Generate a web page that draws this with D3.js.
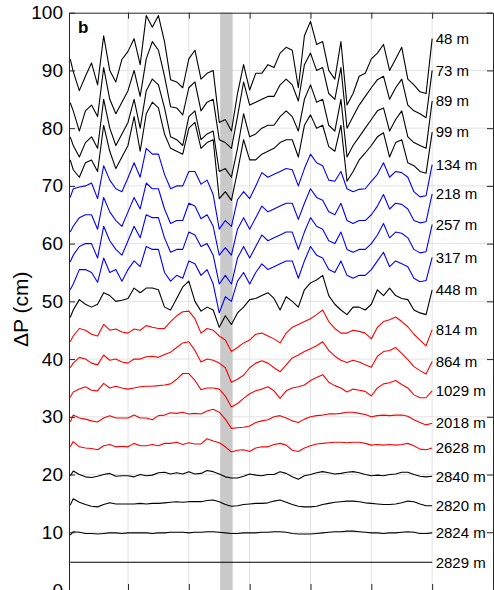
<!DOCTYPE html>
<html>
<head>
<meta charset="utf-8">
<title>Pressure change profiles</title>
<script src="https://cdn.jsdelivr.net/npm/d3@7"></script>
<style>
  body { margin: 0; background: #fff; }
  svg { display: block; font-family: "Liberation Sans", Arial, Helvetica, sans-serif; }
</style>
</head>
<body>
<div id="chart"></div>
<script>
// sample positions along the record (one grid step per unit)
var xs = d3.range(61).map(function(i) { return i / 10; });
xs[0] = 0.05;
var xFlat = [0.05, 6];

// shaded event window
var bandRange = [2.515, 2.72];

var yTicks = [0, 10, 20, 30, 40, 50, 60, 70, 80, 90, 100];
var xTicks = [1, 2, 3, 4, 5, 6];

// ΔP (cm) for each sensor depth
var p48 = [92, 89.8, 86.5, 89, 91.3, 87.5, 96, 90, 88, 91.9,
  93.3, 95.5, 91, 99.5, 97.5, 99.5, 95, 88.4, 88, 87,
  92, 93.5, 88.5, 89.5, 90, 81, 81.5, 79.5, 86, 91,
  86.6, 89.5, 89.5, 91, 90.5, 93, 94, 93.5, 87, 96,
  98.5, 94.5, 95, 90, 88.5, 95, 84, 86, 89, 89.5,
  92, 93, 94.5, 90, 92, 94, 88.5, 87.5, 86.3, 86,
  95.5];
var p73 = [84.4, 83, 79.5, 83, 84, 82, 90.5, 85, 82.5, 84.5,
  86.5, 90, 85.5, 92, 95, 93.5, 89, 83.7, 83.5, 82.3,
  87, 88, 83, 84.5, 85, 78, 77.5, 76.5, 82, 88,
  84, 84.5, 85, 85.5, 85.5, 87.5, 88.5, 87.5, 84.7, 91,
  93, 90, 90.5, 86, 85, 90.5, 80, 82, 84, 85.5,
  87, 88.4, 89, 85, 87, 88.5, 84, 83, 82.5, 81.8,
  90];
var p89 = [78.5, 77, 75, 77.5, 78.5, 76.5, 85, 80, 77, 79,
  81, 85, 80, 86.5, 88.5, 87.5, 83.5, 78.5, 78, 77,
  82, 83, 78, 79, 79.5, 72.5, 73, 71.5, 76.5, 82.5,
  78.5, 79, 80, 80.5, 80.5, 82, 83, 82, 79.5, 85,
  87.5, 84.5, 85, 80.5, 79.5, 85, 75, 77, 78.5, 80,
  81.5, 83, 83.5, 79.5, 81.5, 83, 78.5, 77.5, 77, 76.5,
  84.7];
var p99 = [74.5, 72.8, 71.5, 74, 74.5, 72.5, 80.5, 76, 73, 75,
  77, 82, 76, 82.5, 84.5, 83.5, 79, 76.5, 76, 75.5,
  80, 81, 76.5, 77.5, 78, 67.8, 69, 67.5, 72.5, 78,
  74.5, 74.5, 75.5, 76, 76.5, 77.5, 78, 78, 75, 80.5,
  82.3, 80, 80.5, 76.8, 76, 80.5, 70.8, 72.5, 74.5, 75.7,
  77, 78.5, 79.2, 75, 77.5, 78, 74, 73.5, 72.5, 72.2,
  79.3];
var p134 = [68, 69.5, 69.8, 70, 70.5, 67.8, 73.5, 71, 69.5, 69,
  71.4, 74, 71.5, 76.5, 75.5, 75.5, 72, 69.5, 70, 70,
  72.5, 72.5, 70.3, 71, 68.5, 62.5, 64, 63, 67.6, 69,
  67.8, 70, 72.3, 71.5, 72, 72.5, 73, 72.8, 70, 73,
  75.5, 74, 73.5, 71, 70.8, 72.5, 69.5, 69, 69.4, 69.5,
  70.8, 72, 74, 71.5, 72.5, 72.3, 71.5, 69, 68.1, 68.3,
  73.7];
var p218 = [62, 63, 64.5, 65, 65, 62.5, 68, 65.5, 64, 63,
  65.5, 68, 66, 70.5, 69.5, 69.5, 66, 63.5, 64, 64,
  67, 66.5, 64.3, 65, 63, 58, 59.3, 58, 62.5, 64.5,
  62.5, 64.5, 66.5, 65.5, 66, 66.5, 67, 67, 64.2, 67,
  69.5, 68, 67.5, 65.5, 65, 67, 64, 63.5, 64, 64,
  65, 66.5, 68.5, 66, 67, 66.8, 66, 64, 63.6, 63.8,
  68.6];
var p257 = [56.8, 58, 59.5, 60, 60, 57.5, 63, 60.5, 59, 58,
  60.5, 63, 61, 65, 64.5, 64.5, 61, 58.5, 59, 59,
  62, 61.5, 59.5, 60, 58, 53, 54.5, 53, 57.5, 59.5,
  57.5, 59.5, 61.5, 60.5, 61, 61.5, 62, 62, 59, 62,
  64.5, 63, 62.5, 60.5, 60, 62, 59, 58.5, 59, 59,
  60, 61.5, 63.5, 61, 62, 61.8, 61, 59, 58.4, 58.6,
  63.3];
var p317 = [52, 53, 55.5, 55.5, 55, 53.3, 57.5, 55, 55.5, 53.5,
  55.5, 57, 56, 59.5, 59, 59, 55, 53.5, 54.5, 54,
  57, 56.5, 54.5, 55.5, 53, 48, 50.8, 50, 53.5, 55,
  53, 55, 56.5, 55.5, 56, 56.5, 57, 57, 54, 57,
  59.5, 58, 57.5, 55.5, 55, 57, 54.5, 54, 54.5, 54.5,
  55.5, 57, 58.5, 56, 57, 56.5, 56, 54, 53.4, 53.6,
  57.6];
var p448 = [47.2, 48.5, 50.3, 49.5, 49, 49.5, 51.5, 51, 50, 50.2,
  50.5, 52.3, 51.5, 52.3, 52.3, 52, 49, 48.5, 50.5, 52.5,
  53.5, 50, 48.3, 49, 48.5, 45.5, 47.5, 46, 48, 49,
  50.3, 50.5, 51, 51.5, 50.5, 48.5, 50.8, 50, 49, 52,
  53.2, 53.7, 54.5, 51, 49.5, 48.5, 47.7, 49, 49, 48.5,
  49.5, 52, 51, 52.3, 51, 50.5, 50.3, 48.5, 48, 47.7,
  52];
var p814 = [43, 44, 45.3, 45, 44.3, 44, 46, 45, 45.2, 44.7,
  44.5, 45.2, 45, 45.8, 45.5, 45.3, 45.3, 46.5, 47.5, 48.2,
  48.3, 47, 44.5, 45.3, 45, 44, 43.3, 41.3, 42, 42.8,
  43.3, 44.3, 44.5, 44, 43.5, 42.8, 44.5, 45.5, 46, 46.5,
  47, 47.7, 48.5, 46.5, 45.3, 44.5, 44.5, 45, 44.8, 44.5,
  43.5, 45.5, 46.5, 46.8, 47.3, 46.5, 45.6, 44.3, 43.3, 42.3,
  45.1];
var p864 = [38.5, 39.3, 40.3, 40, 39.3, 39, 40.7, 39.8, 40, 39.5,
  39.3, 40, 40, 40.4, 40.5, 40.3, 40.8, 41.2, 42, 42.8,
  43, 41.5, 39.5, 40, 39.8, 39.3, 38.5, 36, 36.5, 37.2,
  38.5, 39.3, 39.7, 39.3, 38.5, 37.8, 39, 40.2, 40.7, 41.3,
  41.8, 42.3, 43, 41.5, 40.5, 39.8, 39.4, 39.8, 39.5, 39,
  38.6, 40.5, 41.3, 41.5, 42, 41, 39.9, 38.7, 38, 37.4,
  39.6];
var p1029 = [33.4, 34.3, 34.8, 35.2, 34.6, 34.5, 35.8, 35, 35.3, 35,
  34.8, 35, 35.2, 35.3, 35.3, 35.4, 35.5, 35.7, 36.5, 37.5,
  37.5, 36.3, 34.7, 35, 35, 34.8, 33.6, 31.7, 32.3, 33.2,
  34, 34.5, 34.8, 35.2, 34.5, 33.2, 34.5, 35, 35.2, 35.5,
  36.3, 36.8, 37.3, 36, 35.4, 35, 34.3, 34.8, 34.6, 34.4,
  33.6, 35, 35.7, 35.9, 36.3, 35.6, 35, 33.8, 33.3, 33.3,
  34.5];
var p2018 = [29.1, 30.3, 29.8, 29.6, 29.3, 29.1, 29.8, 30.2, 29.8, 29.8,
  29.8, 30.3, 29.8, 29.8, 29.5, 30.2, 30.3, 30.7, 30.6, 30.8,
  30.5, 30.6, 30.5, 31, 31.3, 30.8, 29.6, 28, 28.1, 28.2,
  28.4, 29, 29.3, 29.5, 30, 30.2, 29.8, 29.3, 29, 29.6,
  30, 30.2, 30.3, 30.5, 30.5, 30.6, 30.8, 30.8, 30.6, 30.4,
  30, 30.2, 30.3, 30.2, 30.3, 30.3, 30.1, 29.5, 29, 28.6,
  28.9];
var p2628 = [24.8, 25.7, 24.8, 24.6, 24.5, 24.3, 25, 25.2, 24.8, 24.9,
  24.8, 25.4, 25, 25, 25.2, 25, 25.4, 25.4, 25.6, 25.2,
  25.5, 25.3, 25.3, 26.2, 25.8, 25.5, 24.8, 23.9, 24.2, 24.3,
  24, 24.6, 24.8, 24.8, 25.2, 25.4, 25.1, 24.2, 24, 24.6,
  25, 25.3, 25.4, 25.5, 25.6, 25.6, 25.5, 25.6, 25.6, 25.4,
  25.1, 25.2, 25.1, 25.2, 25.1, 25.2, 25.4, 25, 24.4, 24.3,
  24.6];
var p2840 = [19.8, 20.6, 20, 19.6, 19.5, 19.7, 20, 20.2, 19.7, 19.8,
  19.8, 19.6, 20, 19.8, 19.9, 20.3, 20.4, 20.1, 20.3, 20.1,
  20.5, 20.1, 20.2, 20.7, 20.5, 20.1, 19.6, 19.4, 19.4, 19.7,
  20.1, 19.9, 19.8, 20, 20, 20.5, 20.2, 19.6, 19.2, 19.8,
  20, 20.3, 20.5, 20.3, 20.1, 20.2, 20.4, 20.5, 20.3, 20,
  19.8, 19.9, 19.8, 20, 20.1, 20.4, 20.4, 20, 19.7, 19.6,
  19.7];
var p2820 = [14.7, 15.8, 15.2, 14.8, 14.5, 14.4, 14.8, 15.1, 14.9, 14.9,
  14.9, 14.9, 15, 14.9, 15, 15, 15.1, 15.2, 15.3, 15.2,
  15.3, 15.3, 15.3, 15.5, 15.6, 15.3, 14.8, 14.5, 14.6, 14.8,
  14.9, 15, 15, 15.1, 15.4, 15.6, 15.2, 14.8, 14.5, 14.4,
  14.4, 14.5, 14.8, 15, 15.2, 15.3, 15.4, 15.4, 15.3, 15.1,
  15, 14.9, 14.8, 14.8, 14.9, 15.1, 15.4, 15.3, 14.9, 14.6,
  14.6];
var p2824 = [9.5, 10.1, 10, 9.8, 9.8, 9.7, 9.8, 9.9, 9.9, 9.8,
  9.9, 9.9, 9.9, 9.9, 9.8, 9.9, 9.9, 10, 10, 10,
  9.9, 10, 10, 10.1, 10.1, 10, 9.9, 9.8, 9.8, 9.9,
  9.9, 9.9, 10, 10, 10.1, 10.1, 10, 9.8, 9.7, 9.7,
  9.7, 9.8, 9.9, 10, 10.1, 10.1, 10.2, 10.2, 10.1, 10,
  9.9, 9.9, 9.8, 9.9, 9.9, 10, 10.1, 10, 9.8, 9.8,
  9.9];
var p2829 = [4.8, 4.8];

var black = "#000000", blue = "#0000ff", red = "#ff0000";

var series = [
  { name: "48 m", color: black, x: xs, y: p48 },
  { name: "73 m", color: black, x: xs, y: p73 },
  { name: "89 m", color: black, x: xs, y: p89 },
  { name: "99 m", color: black, x: xs, y: p99 },
  { name: "134 m", color: blue, x: xs, y: p134 },
  { name: "218 m", color: blue, x: xs, y: p218 },
  { name: "257 m", color: blue, x: xs, y: p257 },
  { name: "317 m", color: blue, x: xs, y: p317 },
  { name: "448 m", color: black, x: xs, y: p448 },
  { name: "814 m", color: red, x: xs, y: p814 },
  { name: "864 m", color: red, x: xs, y: p864 },
  { name: "1029 m", color: red, x: xs, y: p1029 },
  { name: "2018 m", color: red, x: xs, y: p2018 },
  { name: "2628 m", color: red, x: xs, y: p2628 },
  { name: "2840 m", color: black, x: xs, y: p2840 },
  { name: "2820 m", color: black, x: xs, y: p2820 },
  { name: "2824 m", color: black, x: xs, y: p2824 },
  { name: "2829 m", color: black, x: xFlat, y: p2829 }
];

var W = 494, H = 590;
var mLeft = 69, mRight = 493, mTop = 12.7, mBottom = 590;

var svg = d3.select("#chart").append("svg")
  .attr("width", W)
  .attr("height", H);

var x = d3.scaleLinear().domain([0.03, 7]).range([mLeft, mRight]);
var y = d3.scaleLinear().domain([0, 100]).range([mBottom, mTop]);

svg.append("clipPath").attr("id", "plotclip")
  .append("rect")
  .attr("x", mLeft).attr("y", mTop)
  .attr("width", mRight - mLeft).attr("height", mBottom - mTop);

// grid
var grid = svg.append("g").attr("stroke", "#e2e2e2").attr("stroke-width", 1);
grid.selectAll(".gx").data(xTicks).enter().append("line")
  .attr("x1", function(d) { return x(d); }).attr("x2", function(d) { return x(d); })
  .attr("y1", mTop).attr("y2", mBottom);
grid.selectAll(".gy").data(yTicks.slice(1, -1)).enter().append("line")
  .attr("x1", mLeft).attr("x2", mRight)
  .attr("y1", function(d) { return y(d); }).attr("y2", function(d) { return y(d); });

// event band
svg.append("rect")
  .attr("x", x(bandRange[0]))
  .attr("width", x(bandRange[1]) - x(bandRange[0]))
  .attr("y", mTop)
  .attr("height", mBottom - mTop)
  .attr("fill", "#c9c9c9");

// profiles
var line = d3.line()
  .x(function(d) { return x(d[0]); })
  .y(function(d) { return y(d[1]); });

svg.append("g").attr("clip-path", "url(#plotclip)")
  .selectAll("path").data(series).enter().append("path")
  .attr("fill", "none")
  .attr("stroke", function(d) { return d.color; })
  .attr("stroke-width", 1.1)
  .attr("stroke-linejoin", "round")
  .attr("d", function(d) { return line(d3.zip(d.x, d.y)); });

// axes
function styleAxis(g) {
  g.selectAll(".domain").attr("stroke", "#262626");
  g.selectAll(".tick line").attr("stroke", "#262626");
}

svg.append("g")
  .attr("transform", "translate(" + mLeft + ",0)")
  .call(d3.axisLeft(y).tickValues(yTicks).tickSize(-6).tickSizeOuter(0).tickPadding(6))
  .call(styleAxis)
  .call(function(g) {
    g.selectAll("text")
      .attr("fill", "#000")
      .style("font-size", "19px")
      .style("font-family", "'Liberation Sans', Arial, Helvetica, sans-serif");
  });

svg.append("g")
  .attr("transform", "translate(" + mRight + ",0)")
  .call(d3.axisRight(y).tickValues(yTicks).tickSize(-6).tickSizeOuter(0).tickFormat(""))
  .call(styleAxis);

svg.append("g")
  .attr("transform", "translate(0," + mTop + ")")
  .call(d3.axisTop(x).tickValues(xTicks).tickSize(-6).tickSizeOuter(0).tickFormat(""))
  .call(styleAxis);

svg.append("g")
  .attr("transform", "translate(0," + mBottom + ")")
  .call(d3.axisBottom(x).tickValues(xTicks).tickSize(-6).tickSizeOuter(0).tickFormat(""))
  .call(styleAxis);

// depth labels at the end of each profile
svg.append("g").selectAll("text").data(series).enter().append("text")
  .attr("x", x(6) + 3.5)
  .attr("y", function(d) { return y(d.y[d.y.length - 1]); })
  .attr("dy", "0.35em")
  .style("font-size", "15px")
  .attr("fill", "#000")
  .text(function(d) { return d.name; });

// y title
svg.append("text")
  .attr("transform", "translate(28," + (y(50) + 8) + ") rotate(-90)")
  .attr("text-anchor", "middle")
  .style("font-size", "21px")
  .attr("fill", "#000")
  .text("ΔP (cm)");

// panel letter
svg.append("text")
  .attr("x", 78)
  .attr("y", 33)
  .style("font-size", "17px")
  .style("font-weight", "bold")
  .attr("fill", "#000")
  .text("b");
</script>
</body>
</html>
